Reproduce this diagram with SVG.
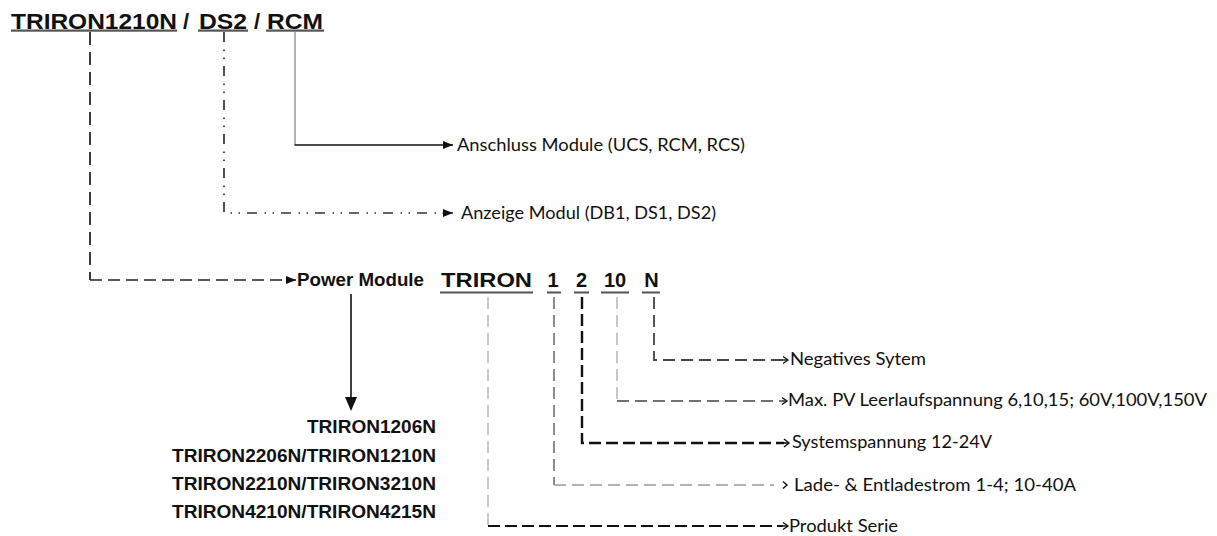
<svg xmlns="http://www.w3.org/2000/svg" width="1217" height="536" viewBox="0 0 1217 536">
<style>
.t{font-family:"Liberation Sans",Arial,sans-serif;font-weight:bold;fill:#111}
.l{font-family:Lato,"Open Sans",sans-serif;font-size:18px;fill:#111}
.ul{fill:#555}
.c{fill:none}
.chev{fill:none;stroke:#111;stroke-width:1.4}
</style>
<defs>
<marker id="tri" viewBox="0 0 10 8" refX="10" refY="4" markerWidth="10" markerHeight="8" markerUnits="userSpaceOnUse" orient="auto">
<path d="M0,0 L10,4 L0,8 Z" fill="#111"/>
</marker>
</defs>
<rect width="1217" height="536" fill="#fff"/>

<g id="title">
<text class="t" x="11" y="28.5" font-size="22" textLength="166" lengthAdjust="spacingAndGlyphs">TRIRON1210N</text>
<text class="t" x="183" y="28.5" font-size="22">/</text>
<text class="t" x="199" y="28.5" font-size="22" textLength="48" lengthAdjust="spacingAndGlyphs">DS2</text>
<text class="t" x="254" y="28.5" font-size="22">/</text>
<text class="t" x="267" y="28.5" font-size="22" textLength="56" lengthAdjust="spacingAndGlyphs">RCM</text>
<rect class="ul" x="11" y="29.5" width="166" height="2.2"/>
<rect class="ul" x="198" y="29.5" width="50" height="2.2"/>
<rect class="ul" x="266" y="29.5" width="58" height="2.2"/>
</g>

<g id="code">
<text class="t" x="441" y="287" font-size="20" textLength="91" lengthAdjust="spacingAndGlyphs">TRIRON</text>
<text class="t" x="553" y="287" font-size="20" text-anchor="middle">1</text>
<text class="t" x="581.5" y="287" font-size="20" text-anchor="middle">2</text>
<text class="t" x="615" y="287" font-size="20" text-anchor="middle">10</text>
<text class="t" x="651.5" y="287" font-size="20" text-anchor="middle">N</text>
<rect class="ul" x="440" y="291.5" width="93" height="2"/>
<rect class="ul" x="547" y="291.5" width="14" height="2"/>
<rect class="ul" x="574" y="291.5" width="15" height="2"/>
<rect class="ul" x="601" y="291.5" width="28" height="2"/>
<rect class="ul" x="642" y="291.5" width="18" height="2"/>
</g>

<g id="power-module">
<text class="t" x="297" y="286" font-size="18" textLength="127" lengthAdjust="spacingAndGlyphs">Power Module</text>
</g>

<g id="models">
<text class="t" x="436" y="433" font-size="18" text-anchor="end" textLength="129" lengthAdjust="spacingAndGlyphs">TRIRON1206N</text>
<text class="t" x="436" y="461.5" font-size="18" text-anchor="end" textLength="264" lengthAdjust="spacingAndGlyphs">TRIRON2206N/TRIRON1210N</text>
<text class="t" x="436" y="490" font-size="18" text-anchor="end" textLength="264" lengthAdjust="spacingAndGlyphs">TRIRON2210N/TRIRON3210N</text>
<text class="t" x="436" y="518" font-size="18" text-anchor="end" textLength="264" lengthAdjust="spacingAndGlyphs">TRIRON4210N/TRIRON4215N</text>
</g>

<g id="label-anschluss"><text class="l" x="457" y="151" textLength="288" lengthAdjust="spacingAndGlyphs">Anschluss Module (UCS, RCM, RCS)</text></g>
<g id="label-anzeige"><text class="l" x="461" y="219" textLength="255" lengthAdjust="spacingAndGlyphs">Anzeige Modul (DB1, DS1, DS2)</text></g>
<g id="label-negatives"><text class="l" x="790" y="365" textLength="136" lengthAdjust="spacingAndGlyphs">Negatives Sytem</text></g>
<g id="label-maxpv"><text class="l" x="788" y="406" textLength="419" lengthAdjust="spacingAndGlyphs">Max. PV Leerlaufspannung 6,10,15; 60V,100V,150V</text></g>
<g id="label-system"><text class="l" x="792" y="448" textLength="200" lengthAdjust="spacingAndGlyphs">Systemspannung 12-24V</text></g>
<g id="label-lade"><text class="l" x="794" y="491" textLength="282" lengthAdjust="spacingAndGlyphs">Lade- &amp; Entladestrom 1-4; 10-40A</text></g>
<g id="label-produkt"><text class="l" x="789" y="532" textLength="109" lengthAdjust="spacingAndGlyphs">Produkt Serie</text></g>

<g id="connectors">
<path class="c" d="M90,32 V280" stroke="#333" stroke-width="1.9" stroke-dasharray="13 7"/>
<path class="c" d="M90,280 H296" stroke="#222" stroke-width="1.5" stroke-dasharray="12 6" marker-end="url(#tri)"/>
<path class="c" d="M224,32 V213 H453" stroke="#333" stroke-width="1.7" stroke-dasharray="10 7.5 1.5 6.5 1.5 7" marker-end="url(#tri)"/>
<path class="c" d="M295,32 V145" stroke="#999" stroke-width="1.5"/>
<path class="c" d="M294.5,145 H453" stroke="#111" stroke-width="1.6" marker-end="url(#tri)"/>
<path class="c" d="M351,294 V399" stroke="#111" stroke-width="1.6"/>
<path d="M345,397 L357,397 L351,411 Z" fill="#111"/>
<path class="c" d="M654,297 V360 H783" stroke="#444" stroke-width="1.8" stroke-dasharray="12 6"/>
<path class="chev" d="M783,356.5 L788,360 L783,363.5" stroke="#222"/>
<path class="c" d="M783,360 H788" stroke="#222" stroke-width="1.4"/>
<path class="c" d="M617,297 V401" stroke="#aaa" stroke-width="1.3" stroke-dasharray="12 6"/>
<path class="c" d="M617,401 H782" stroke="#444" stroke-width="1.5" stroke-dasharray="12 6"/>
<path class="chev" d="M782,397.5 L787,401 L782,404.5"/>
<path class="c" d="M782,401 H787" stroke="#222" stroke-width="1.4"/>
<path class="c" d="M582,297 V443 H784" stroke="#111" stroke-width="2.4" stroke-dasharray="12 5"/>
<path class="chev" d="M784,439 L789,443 L784,447" stroke-width="1.8"/>
<path class="c" d="M784,443 H789" stroke="#111" stroke-width="1.6"/>
<path class="c" d="M554,297 V485" stroke="#666" stroke-width="1.5" stroke-dasharray="12 6"/>
<path class="c" d="M554,485 H774" stroke="#999" stroke-width="1.4" stroke-dasharray="12 6"/>
<path class="chev" d="M783,481.5 L787,485 L783,488.5" stroke="#333"/>
<path class="c" d="M488,297 V526" stroke="#aaa" stroke-width="1.3" stroke-dasharray="12 6"/>
<path class="c" d="M488,526 H783" stroke="#111" stroke-width="1.8" stroke-dasharray="12 5"/>
<path class="chev" d="M783,522.5 L788,526 L783,529.5"/>
<path class="c" d="M783,526 H788" stroke="#111" stroke-width="1.4"/>
</g>
</svg>
